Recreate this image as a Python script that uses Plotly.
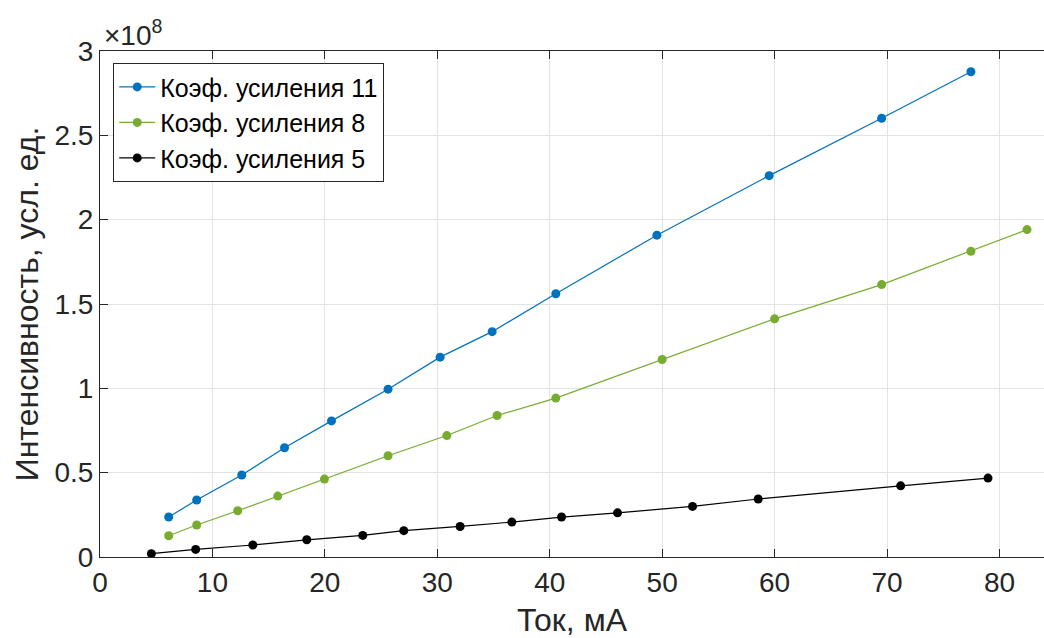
import plotly.graph_objects as go

SCALE = 1e8

x_11 = [6.11, 8.60, 12.61, 16.41, 20.59, 25.62, 30.25, 34.88, 40.54, 49.53, 59.52, 69.52, 77.46]
y_11 = [0.237, 0.338, 0.486, 0.648, 0.807, 0.995, 1.185, 1.336, 1.561, 1.908, 2.261, 2.601, 2.877]

x_8 = [6.11, 8.60, 12.25, 15.81, 19.96, 25.62, 30.85, 35.32, 40.54, 50.0, 60.0, 69.52, 77.46, 82.45]
y_8 = [0.126, 0.190, 0.274, 0.361, 0.462, 0.600, 0.720, 0.839, 0.942, 1.171, 1.412, 1.615, 1.813, 1.941]

x_5 = [4.57, 8.51, 13.59, 18.39, 23.37, 27.02, 32.03, 36.63, 41.05, 46.03, 52.70, 58.54, 71.21, 78.98]
y_5 = [0.020, 0.045, 0.071, 0.102, 0.128, 0.156, 0.181, 0.207, 0.237, 0.262, 0.300, 0.344, 0.422, 0.468]

names = ["Коэф. усиления 11", "Коэф. усиления 8", "Коэф. усиления 5"]
colors = ["#0072BD", "#77AC30", "#000000"]

x_ticks = [0, 10, 20, 30, 40, 50, 60, 70, 80]
y_ticks = [0, 0.5, 1, 1.5, 2, 2.5, 3]
y_ticktext = ["0", "0.5", "1", "1.5", "2", "2.5", "3"]

fig = go.Figure()
for xs, ys, nm, c in zip([x_11, x_8, x_5], [y_11, y_8, y_5], names, colors):
    fig.add_trace(go.Scatter(
        x=xs, y=[v * SCALE for v in ys], name=nm, mode="lines+markers",
        line=dict(color=c, width=1.2),
        marker=dict(color=c, size=9),
    ))

axis_common = dict(
    showline=True, linecolor="#262626", linewidth=1,
    ticks="inside", ticklen=8, tickcolor="#262626", tickwidth=1,
    showgrid=True, gridcolor="#e3e3e3", gridwidth=1, zeroline=False,
    tickfont=dict(family="Arial", size=28, color="#262626"),
    automargin=False,
)

fig.update_xaxes(
    range=[0, 83.96], tickvals=x_ticks, mirror="ticks",
    title=dict(text="Ток, мА", font=dict(family="Arial", size=32, color="#262626"), standoff=12),
    **axis_common,
)
fig.update_yaxes(
    range=[0, 3 * SCALE], tickvals=[v * SCALE for v in y_ticks], ticktext=y_ticktext, mirror=False,
    title=dict(text="Интенсивность, усл. ед.", font=dict(family="Arial", size=32, color="#262626"), standoff=6),
    **axis_common,
)

fig.add_annotation(
    xref="paper", yref="paper", x=0.0, y=1.0, xanchor="left", yanchor="bottom",
    text="×10<sup>8</sup>", showarrow=False,
    font=dict(family="Arial", size=28, color="#262626"), yshift=-2, xshift=2,
)

fig.update_layout(
    width=1044, height=638,
    margin=dict(l=100, r=0, t=51, b=81),
    paper_bgcolor="white", plot_bgcolor="white",
    font=dict(family="Arial", color="#262626"),
    legend=dict(
        x=0.014, y=0.976, xanchor="left", yanchor="top",
        bgcolor="white", bordercolor="#262626", borderwidth=1,
        font=dict(family="Arial", size=25, color="#000000"),
        tracegroupgap=0, itemwidth=36,
    ),
)

fig.write_html("out.html")
